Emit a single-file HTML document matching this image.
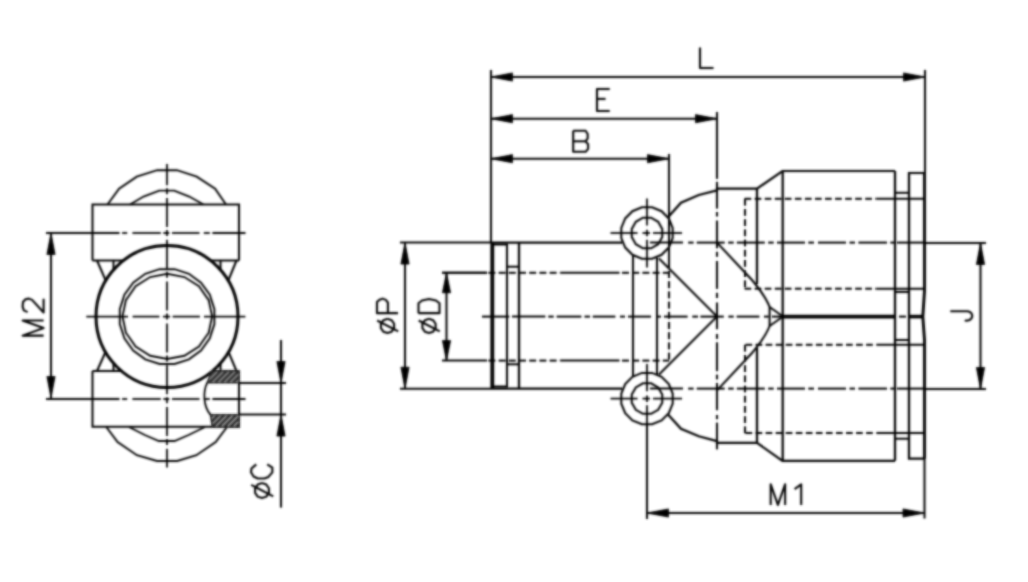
<!DOCTYPE html>
<html><head><meta charset="utf-8"><style>html,body{margin:0;padding:0;background:#fff;width:1028px;height:582px;overflow:hidden}svg{display:block}</style></head>
<body><svg width="1028" height="582" viewBox="0 0 1028 582"><filter id="bl" x="-5%" y="-5%" width="110%" height="110%"><feConvolveMatrix order="5" kernelMatrix="1 2 5 2 1 2 4 10 4 2 5 10 25 10 5 2 4 10 4 2 1 2 5 2 1" divisor="121" edgeMode="none" preserveAlpha="false"/></filter><g filter="url(#bl)"><polyline points="92.5,260.5 92.5,204.5 239,204.5 239,260.5" fill="none" stroke="#000" stroke-width="2.02" stroke-linejoin="miter"/>
<line x1="92.5" y1="260.5" x2="123" y2="260.5" stroke="#000" stroke-width="2.02" stroke-linecap="butt"/>
<line x1="211" y1="260.5" x2="239" y2="260.5" stroke="#000" stroke-width="2.02" stroke-linecap="butt"/>
<polyline points="92.5,371 92.5,426.8 239,426.8 239,371" fill="none" stroke="#000" stroke-width="2.02" stroke-linejoin="miter"/>
<line x1="92.5" y1="371" x2="123" y2="371" stroke="#000" stroke-width="2.02" stroke-linecap="butt"/>
<line x1="211" y1="371" x2="239" y2="371" stroke="#000" stroke-width="2.02" stroke-linecap="butt"/>
<polyline points="106.3,427 117.6,442 136.9,455.2 157,461 177.2,461 196.4,455.2 215.7,442 227,427" fill="none" stroke="#000" stroke-width="1.9" stroke-linejoin="miter"/>
<polyline points="129,427 144.8,435 158.8,441 174.6,441 188.6,435 205,427" fill="none" stroke="#000" stroke-width="1.9" stroke-linejoin="miter"/>
<polyline points="107.5,204.5 119.1,188.6 136.8,176.6 157.2,170.2 176.9,170.2 196.7,176.6 215.1,188.6 226,204.5" fill="none" stroke="#000" stroke-width="1.9" stroke-linejoin="miter"/>
<polyline points="130,204.5 143.6,196.5 159.2,190.6 174.2,190.6 189.2,196.5 203.5,204.5" fill="none" stroke="#000" stroke-width="1.9" stroke-linejoin="miter"/>
<circle cx="167" cy="316.6" r="71" fill="none" stroke="#000" stroke-width="3"/>
<polygon points="214.41,324.11 209.78,338.39 200.97,350.54 188.85,359.37 174.59,364.01 159.61,364.01 145.35,359.37 133.23,350.54 124.42,338.39 119.79,324.11 119.79,309.09 124.42,294.81 133.23,282.66 145.35,273.83 159.61,269.19 174.59,269.19 188.85,273.83 200.97,282.66 209.78,294.81 214.41,309.09" fill="none" stroke="#000" stroke-width="1.9" stroke-linejoin="miter"/>
<polygon points="212.1,316.4 208.69,332.7 198.98,346.52 184.44,355.76 167.3,359 150.16,355.76 135.62,346.52 125.91,332.7 122.5,316.4 125.91,300.1 135.62,286.28 150.16,277.04 167.3,273.8 184.44,277.04 198.98,286.28 208.69,300.1" fill="none" stroke="#000" stroke-width="1.9" stroke-linejoin="miter"/>
<line x1="97" y1="260.5" x2="105.5" y2="280" stroke="#000" stroke-width="2.02" stroke-linecap="butt"/>
<line x1="113.5" y1="260.5" x2="113.5" y2="269" stroke="#000" stroke-width="2.02" stroke-linecap="butt"/>
<line x1="220.5" y1="260.5" x2="220.5" y2="269" stroke="#000" stroke-width="2.02" stroke-linecap="butt"/>
<line x1="236.5" y1="260.5" x2="228.5" y2="280" stroke="#000" stroke-width="2.02" stroke-linecap="butt"/>
<line x1="97" y1="371" x2="105.5" y2="352" stroke="#000" stroke-width="2.02" stroke-linecap="butt"/>
<line x1="113.5" y1="371" x2="113.5" y2="363" stroke="#000" stroke-width="2.02" stroke-linecap="butt"/>
<line x1="220.5" y1="371" x2="220.5" y2="363" stroke="#000" stroke-width="2.02" stroke-linecap="butt"/>
<line x1="236.5" y1="371" x2="228.5" y2="352" stroke="#000" stroke-width="2.02" stroke-linecap="butt"/>
<defs><pattern id="h" patternUnits="userSpaceOnUse" width="4.2" height="4.2" patternTransform="rotate(45)"><rect width="4.2" height="4.2" fill="#2a2a2a"/><rect width="1.1" height="4.2" fill="#a8a8a8"/></pattern></defs>
<path d="M211.7,371 L239.2,371 L239.2,382.8 L207.2,382.8 Z" fill="url(#h)" stroke="#1e1e1e" stroke-width="1.6"/>
<path d="M210.5,414.7 L239.2,414.7 L239.2,427 L212.4,427 Z" fill="url(#h)" stroke="#1e1e1e" stroke-width="1.6"/>
<path d="M207.2,382.8 C203,391 203,406 210.5,414.7" fill="none" stroke="#000" stroke-width="1.79" />
<line x1="239" y1="382.9" x2="286" y2="382.9" stroke="#000" stroke-width="2.02" stroke-linecap="butt"/>
<line x1="239" y1="414.6" x2="286" y2="414.6" stroke="#000" stroke-width="2.02" stroke-linecap="butt"/>
<line x1="167" y1="164.1" x2="167" y2="185.2" stroke="#000" stroke-width="1.79" stroke-linecap="butt"/>
<line x1="167" y1="188.2" x2="167" y2="194.2" stroke="#000" stroke-width="1.79" stroke-linecap="butt"/>
<line x1="167" y1="198" x2="167" y2="227" stroke="#000" stroke-width="1.79" stroke-linecap="butt"/>
<line x1="167" y1="230" x2="167" y2="236" stroke="#000" stroke-width="1.79" stroke-linecap="butt"/>
<line x1="167" y1="239.8" x2="167" y2="268.8" stroke="#000" stroke-width="1.79" stroke-linecap="butt"/>
<line x1="167" y1="271.8" x2="167" y2="277.8" stroke="#000" stroke-width="1.79" stroke-linecap="butt"/>
<line x1="167" y1="281.6" x2="167" y2="310.6" stroke="#000" stroke-width="1.79" stroke-linecap="butt"/>
<line x1="167" y1="313.6" x2="167" y2="319.6" stroke="#000" stroke-width="1.79" stroke-linecap="butt"/>
<line x1="167" y1="323.4" x2="167" y2="352.4" stroke="#000" stroke-width="1.79" stroke-linecap="butt"/>
<line x1="167" y1="355.4" x2="167" y2="361.4" stroke="#000" stroke-width="1.79" stroke-linecap="butt"/>
<line x1="167" y1="365.2" x2="167" y2="394.2" stroke="#000" stroke-width="1.79" stroke-linecap="butt"/>
<line x1="167" y1="397.2" x2="167" y2="403.2" stroke="#000" stroke-width="1.79" stroke-linecap="butt"/>
<line x1="167" y1="407" x2="167" y2="436" stroke="#000" stroke-width="1.79" stroke-linecap="butt"/>
<line x1="167" y1="439" x2="167" y2="445" stroke="#000" stroke-width="1.79" stroke-linecap="butt"/>
<line x1="167" y1="448.8" x2="167" y2="467.5" stroke="#000" stroke-width="1.79" stroke-linecap="butt"/>
<line x1="86.3" y1="316.6" x2="128" y2="316.6" stroke="#000" stroke-width="1.79" stroke-linecap="butt"/>
<line x1="132.6" y1="316.6" x2="159.4" y2="316.6" stroke="#000" stroke-width="1.79" stroke-linecap="butt"/>
<line x1="162.9" y1="316.6" x2="170.1" y2="316.6" stroke="#000" stroke-width="1.79" stroke-linecap="butt"/>
<line x1="172.6" y1="316.6" x2="199.9" y2="316.6" stroke="#000" stroke-width="1.79" stroke-linecap="butt"/>
<line x1="204" y1="316.6" x2="245.4" y2="316.6" stroke="#000" stroke-width="1.79" stroke-linecap="butt"/>
<line x1="46" y1="233" x2="119.5" y2="233" stroke="#000" stroke-width="1.79" stroke-linecap="butt"/>
<line x1="122.1" y1="233" x2="127.2" y2="233" stroke="#000" stroke-width="1.79" stroke-linecap="butt"/>
<line x1="132.4" y1="233" x2="160.8" y2="233" stroke="#000" stroke-width="1.79" stroke-linecap="butt"/>
<line x1="163.3" y1="233" x2="169.3" y2="233" stroke="#000" stroke-width="1.79" stroke-linecap="butt"/>
<line x1="172" y1="233" x2="199.5" y2="233" stroke="#000" stroke-width="1.79" stroke-linecap="butt"/>
<line x1="203.8" y1="233" x2="209.8" y2="233" stroke="#000" stroke-width="1.79" stroke-linecap="butt"/>
<line x1="212.4" y1="233" x2="245.5" y2="233" stroke="#000" stroke-width="1.79" stroke-linecap="butt"/>
<line x1="46" y1="399" x2="119.5" y2="399" stroke="#000" stroke-width="1.79" stroke-linecap="butt"/>
<line x1="122.1" y1="399" x2="127.2" y2="399" stroke="#000" stroke-width="1.79" stroke-linecap="butt"/>
<line x1="132.4" y1="399" x2="160.8" y2="399" stroke="#000" stroke-width="1.79" stroke-linecap="butt"/>
<line x1="163.3" y1="399" x2="169.3" y2="399" stroke="#000" stroke-width="1.79" stroke-linecap="butt"/>
<line x1="172" y1="399" x2="199.5" y2="399" stroke="#000" stroke-width="1.79" stroke-linecap="butt"/>
<line x1="203.8" y1="399" x2="209.8" y2="399" stroke="#000" stroke-width="1.79" stroke-linecap="butt"/>
<line x1="212.4" y1="399" x2="245.5" y2="399" stroke="#000" stroke-width="1.79" stroke-linecap="butt"/>
<line x1="51" y1="233" x2="51" y2="398" stroke="#000" stroke-width="2.02" stroke-linecap="butt"/>
<polygon points="51,233 55.1,254.5 46.9,254.5" fill="#000" stroke="#000" stroke-width="0.8" stroke-linejoin="miter"/>
<polygon points="51,398 46.9,376.5 55.1,376.5" fill="#000" stroke="#000" stroke-width="0.8" stroke-linejoin="miter"/>
<line x1="281" y1="340" x2="281" y2="507.6" stroke="#000" stroke-width="2.02" stroke-linecap="butt"/>
<polygon points="281,383 276.9,361.5 285.1,361.5" fill="#000" stroke="#000" stroke-width="0.8" stroke-linejoin="miter"/>
<polygon points="281,414.6 285.1,436.1 276.9,436.1" fill="#000" stroke="#000" stroke-width="0.8" stroke-linejoin="miter"/>
<line x1="491" y1="77" x2="925" y2="77" stroke="#000" stroke-width="2.02" stroke-linecap="butt"/>
<polygon points="491,77 512.5,72.9 512.5,81.1" fill="#000" stroke="#000" stroke-width="0.8" stroke-linejoin="miter"/>
<polygon points="925,77 903.5,81.1 903.5,72.9" fill="#000" stroke="#000" stroke-width="0.8" stroke-linejoin="miter"/>
<line x1="491" y1="118.7" x2="717" y2="118.7" stroke="#000" stroke-width="2.02" stroke-linecap="butt"/>
<polygon points="491,118.7 512.5,114.6 512.5,122.8" fill="#000" stroke="#000" stroke-width="0.8" stroke-linejoin="miter"/>
<polygon points="717,118.7 695.5,122.8 695.5,114.6" fill="#000" stroke="#000" stroke-width="0.8" stroke-linejoin="miter"/>
<line x1="491" y1="158.7" x2="669" y2="158.7" stroke="#000" stroke-width="2.02" stroke-linecap="butt"/>
<polygon points="491,158.7 512.5,154.6 512.5,162.8" fill="#000" stroke="#000" stroke-width="0.8" stroke-linejoin="miter"/>
<polygon points="669,158.7 647.5,162.8 647.5,154.6" fill="#000" stroke="#000" stroke-width="0.8" stroke-linejoin="miter"/>
<line x1="491" y1="70" x2="491" y2="243" stroke="#000" stroke-width="2.02" stroke-linecap="butt"/>
<line x1="717" y1="112" x2="717" y2="178.9" stroke="#000" stroke-width="2.02" stroke-linecap="butt"/>
<line x1="717" y1="181.8" x2="717" y2="208.6" stroke="#000" stroke-width="2.02" stroke-linecap="butt"/>
<line x1="717" y1="212" x2="717" y2="216.5" stroke="#000" stroke-width="2.02" stroke-linecap="butt"/>
<line x1="717" y1="220.5" x2="717" y2="248.3" stroke="#000" stroke-width="2.02" stroke-linecap="butt"/>
<line x1="717" y1="251.8" x2="717" y2="256.8" stroke="#000" stroke-width="2.02" stroke-linecap="butt"/>
<line x1="717" y1="261" x2="717" y2="288.9" stroke="#000" stroke-width="2.02" stroke-linecap="butt"/>
<line x1="717" y1="292.8" x2="717" y2="298" stroke="#000" stroke-width="2.02" stroke-linecap="butt"/>
<line x1="717" y1="302.5" x2="717" y2="329.2" stroke="#000" stroke-width="2.02" stroke-linecap="butt"/>
<line x1="717" y1="334" x2="717" y2="338.9" stroke="#000" stroke-width="2.02" stroke-linecap="butt"/>
<line x1="717" y1="342.3" x2="717" y2="371.2" stroke="#000" stroke-width="2.02" stroke-linecap="butt"/>
<line x1="717" y1="374.6" x2="717" y2="379.4" stroke="#000" stroke-width="2.02" stroke-linecap="butt"/>
<line x1="717" y1="382.9" x2="717" y2="410.2" stroke="#000" stroke-width="2.02" stroke-linecap="butt"/>
<line x1="717" y1="415" x2="717" y2="419.2" stroke="#000" stroke-width="2.02" stroke-linecap="butt"/>
<line x1="717" y1="422.6" x2="717" y2="449.4" stroke="#000" stroke-width="2.02" stroke-linecap="butt"/>
<line x1="669" y1="154" x2="669" y2="268" stroke="#000" stroke-width="2.02" stroke-linecap="butt"/>
<line x1="925" y1="70" x2="925" y2="173" stroke="#000" stroke-width="2.02" stroke-linecap="butt"/>
<line x1="492.3" y1="242.6" x2="492.3" y2="388.6" stroke="#000" stroke-width="3.81" stroke-linecap="butt"/>
<polyline points="492,244.6 507,244.6 507,386.6 492,386.6" fill="none" stroke="#000" stroke-width="2.02" stroke-linejoin="miter"/>
<line x1="519" y1="242.6" x2="519" y2="388.6" stroke="#000" stroke-width="2.24" stroke-linecap="butt"/>
<line x1="507" y1="266.7" x2="519" y2="266.7" stroke="#000" stroke-width="2.02" stroke-linecap="butt"/>
<line x1="507" y1="364.3" x2="519" y2="364.3" stroke="#000" stroke-width="2.02" stroke-linecap="butt"/>
<line x1="491" y1="242.6" x2="622" y2="242.6" stroke="#000" stroke-width="2.24" stroke-linecap="butt"/>
<line x1="491" y1="388.6" x2="622" y2="388.6" stroke="#000" stroke-width="2.24" stroke-linecap="butt"/>
<line x1="442" y1="272.8" x2="487" y2="272.8" stroke="#000" stroke-width="2.02" stroke-linecap="butt"/>
<line x1="488.4" y1="272.8" x2="495.4" y2="272.8" stroke="#000" stroke-width="2.02" stroke-linecap="butt"/>
<line x1="498.6" y1="272.8" x2="505.6" y2="272.8" stroke="#000" stroke-width="2.02" stroke-linecap="butt"/>
<line x1="508.8" y1="272.8" x2="515.8" y2="272.8" stroke="#000" stroke-width="2.02" stroke-linecap="butt"/>
<line x1="519" y1="272.8" x2="526" y2="272.8" stroke="#000" stroke-width="2.02" stroke-linecap="butt"/>
<line x1="529.2" y1="272.8" x2="536.2" y2="272.8" stroke="#000" stroke-width="2.02" stroke-linecap="butt"/>
<line x1="539.4" y1="272.8" x2="546.4" y2="272.8" stroke="#000" stroke-width="2.02" stroke-linecap="butt"/>
<line x1="549.6" y1="272.8" x2="556.6" y2="272.8" stroke="#000" stroke-width="2.02" stroke-linecap="butt"/>
<line x1="559.8" y1="272.8" x2="560.3" y2="272.8" stroke="#000" stroke-width="2.02" stroke-linecap="butt"/>
<line x1="560.3" y1="272.8" x2="619.5" y2="272.8" stroke="#000" stroke-width="2.02" stroke-linecap="butt"/>
<line x1="622" y1="272.8" x2="629" y2="272.8" stroke="#000" stroke-width="2.02" stroke-linecap="butt"/>
<line x1="632.2" y1="272.8" x2="639.2" y2="272.8" stroke="#000" stroke-width="2.02" stroke-linecap="butt"/>
<line x1="642.4" y1="272.8" x2="649.4" y2="272.8" stroke="#000" stroke-width="2.02" stroke-linecap="butt"/>
<line x1="652.6" y1="272.8" x2="659.6" y2="272.8" stroke="#000" stroke-width="2.02" stroke-linecap="butt"/>
<line x1="662.8" y1="272.8" x2="669" y2="272.8" stroke="#000" stroke-width="2.02" stroke-linecap="butt"/>
<line x1="442" y1="360.6" x2="487" y2="360.6" stroke="#000" stroke-width="2.02" stroke-linecap="butt"/>
<line x1="488.4" y1="360.6" x2="495.4" y2="360.6" stroke="#000" stroke-width="2.02" stroke-linecap="butt"/>
<line x1="498.6" y1="360.6" x2="505.6" y2="360.6" stroke="#000" stroke-width="2.02" stroke-linecap="butt"/>
<line x1="508.8" y1="360.6" x2="515.8" y2="360.6" stroke="#000" stroke-width="2.02" stroke-linecap="butt"/>
<line x1="519" y1="360.6" x2="526" y2="360.6" stroke="#000" stroke-width="2.02" stroke-linecap="butt"/>
<line x1="529.2" y1="360.6" x2="536.2" y2="360.6" stroke="#000" stroke-width="2.02" stroke-linecap="butt"/>
<line x1="539.4" y1="360.6" x2="546.4" y2="360.6" stroke="#000" stroke-width="2.02" stroke-linecap="butt"/>
<line x1="549.6" y1="360.6" x2="556.6" y2="360.6" stroke="#000" stroke-width="2.02" stroke-linecap="butt"/>
<line x1="559.8" y1="360.6" x2="560.3" y2="360.6" stroke="#000" stroke-width="2.02" stroke-linecap="butt"/>
<line x1="560.3" y1="360.6" x2="619.5" y2="360.6" stroke="#000" stroke-width="2.02" stroke-linecap="butt"/>
<line x1="622" y1="360.6" x2="629" y2="360.6" stroke="#000" stroke-width="2.02" stroke-linecap="butt"/>
<line x1="632.2" y1="360.6" x2="639.2" y2="360.6" stroke="#000" stroke-width="2.02" stroke-linecap="butt"/>
<line x1="642.4" y1="360.6" x2="649.4" y2="360.6" stroke="#000" stroke-width="2.02" stroke-linecap="butt"/>
<line x1="652.6" y1="360.6" x2="659.6" y2="360.6" stroke="#000" stroke-width="2.02" stroke-linecap="butt"/>
<line x1="662.8" y1="360.6" x2="669" y2="360.6" stroke="#000" stroke-width="2.02" stroke-linecap="butt"/>
<line x1="633" y1="256" x2="633" y2="377" stroke="#000" stroke-width="2.02" stroke-linecap="butt"/>
<line x1="657" y1="258" x2="657" y2="375" stroke="#000" stroke-width="2.02" stroke-linecap="butt"/>
<line x1="669" y1="271" x2="669" y2="278" stroke="#000" stroke-width="2.02" stroke-linecap="butt"/>
<line x1="669" y1="281.2" x2="669" y2="288.2" stroke="#000" stroke-width="2.02" stroke-linecap="butt"/>
<line x1="669" y1="291.4" x2="669" y2="298.4" stroke="#000" stroke-width="2.02" stroke-linecap="butt"/>
<line x1="669" y1="301.6" x2="669" y2="308.6" stroke="#000" stroke-width="2.02" stroke-linecap="butt"/>
<line x1="669" y1="311.8" x2="669" y2="318.8" stroke="#000" stroke-width="2.02" stroke-linecap="butt"/>
<line x1="669" y1="322" x2="669" y2="329" stroke="#000" stroke-width="2.02" stroke-linecap="butt"/>
<line x1="669" y1="332.2" x2="669" y2="339.2" stroke="#000" stroke-width="2.02" stroke-linecap="butt"/>
<line x1="669" y1="342.4" x2="669" y2="349.4" stroke="#000" stroke-width="2.02" stroke-linecap="butt"/>
<line x1="669" y1="352.6" x2="669" y2="359.6" stroke="#000" stroke-width="2.02" stroke-linecap="butt"/>
<polygon points="672.7,238.11 668.78,247.56 661.56,254.78 652.11,258.7 641.89,258.7 632.44,254.78 625.22,247.56 621.3,238.11 621.3,227.89 625.22,218.44 632.44,211.22 641.89,207.3 652.11,207.3 661.56,211.22 668.78,218.44 672.7,227.89" fill="none" stroke="#000" stroke-width="2.02" stroke-linejoin="miter"/>
<polygon points="662.26,237.09 658.17,244.17 651.09,248.26 642.91,248.26 635.83,244.17 631.74,237.09 631.74,228.91 635.83,221.83 642.91,217.74 651.09,217.74 658.17,221.83 662.26,228.91" fill="none" stroke="#000" stroke-width="2.02" stroke-linejoin="miter"/>
<line x1="610.5" y1="233" x2="637.5" y2="233" stroke="#000" stroke-width="1.79" stroke-linecap="butt"/>
<line x1="642.5" y1="233" x2="650" y2="233" stroke="#000" stroke-width="1.79" stroke-linecap="butt"/>
<line x1="653" y1="233" x2="682" y2="233" stroke="#000" stroke-width="1.79" stroke-linecap="butt"/>
<line x1="647" y1="198.5" x2="647" y2="225.6" stroke="#000" stroke-width="1.79" stroke-linecap="butt"/>
<line x1="647" y1="229.8" x2="647" y2="236.3" stroke="#000" stroke-width="1.79" stroke-linecap="butt"/>
<line x1="647" y1="239.7" x2="647" y2="267.4" stroke="#000" stroke-width="1.79" stroke-linecap="butt"/>
<polygon points="672.7,403.71 668.78,413.16 661.56,420.38 652.11,424.3 641.89,424.3 632.44,420.38 625.22,413.16 621.3,403.71 621.3,393.49 625.22,384.04 632.44,376.82 641.89,372.9 652.11,372.9 661.56,376.82 668.78,384.04 672.7,393.49" fill="none" stroke="#000" stroke-width="2.02" stroke-linejoin="miter"/>
<polygon points="662.26,402.69 658.17,409.77 651.09,413.86 642.91,413.86 635.83,409.77 631.74,402.69 631.74,394.51 635.83,387.43 642.91,383.34 651.09,383.34 658.17,387.43 662.26,394.51" fill="none" stroke="#000" stroke-width="2.02" stroke-linejoin="miter"/>
<line x1="610.5" y1="398.6" x2="637.5" y2="398.6" stroke="#000" stroke-width="1.79" stroke-linecap="butt"/>
<line x1="642.5" y1="398.6" x2="650" y2="398.6" stroke="#000" stroke-width="1.79" stroke-linecap="butt"/>
<line x1="653" y1="398.6" x2="682" y2="398.6" stroke="#000" stroke-width="1.79" stroke-linecap="butt"/>
<line x1="647" y1="364.1" x2="647" y2="391.2" stroke="#000" stroke-width="1.79" stroke-linecap="butt"/>
<line x1="647" y1="395.4" x2="647" y2="401.9" stroke="#000" stroke-width="1.79" stroke-linecap="butt"/>
<line x1="647" y1="405.3" x2="647" y2="433" stroke="#000" stroke-width="1.79" stroke-linecap="butt"/>
<polyline points="668,217.2 681,202.8 698.8,195 717,190.4 717,188.7 757,188.7 782.5,171 895,171" fill="none" stroke="#000" stroke-width="2.24" stroke-linejoin="miter"/>
<polyline points="668,414.5 681,428.7 698.8,436.3 717,441.2 717,442.9 757,442.9 782.5,460.8 895,460.8" fill="none" stroke="#000" stroke-width="2.24" stroke-linejoin="miter"/>
<line x1="757" y1="188.7" x2="757" y2="284" stroke="#000" stroke-width="2.24" stroke-linecap="butt"/>
<line x1="757" y1="347.5" x2="757" y2="442.9" stroke="#000" stroke-width="2.24" stroke-linecap="butt"/>
<line x1="782.7" y1="171" x2="782.7" y2="460.8" stroke="#000" stroke-width="2.24" stroke-linecap="butt"/>
<line x1="895" y1="171" x2="895" y2="460.8" stroke="#000" stroke-width="2.24" stroke-linecap="butt"/>
<polyline points="924,458.7 909,458.7 909,173 924,173" fill="none" stroke="#000" stroke-width="2.24" stroke-linejoin="miter"/>
<polyline points="924.5,173 924.5,291 922.8,316.6 924.5,340 924.5,458.7" fill="none" stroke="#000" stroke-width="2.91" stroke-linejoin="miter"/>
<line x1="895" y1="192.8" x2="909" y2="192.8" stroke="#000" stroke-width="2.02" stroke-linecap="butt"/>
<line x1="895" y1="292" x2="909" y2="292" stroke="#000" stroke-width="2.02" stroke-linecap="butt"/>
<line x1="895" y1="340" x2="909" y2="340" stroke="#000" stroke-width="2.02" stroke-linecap="butt"/>
<line x1="895" y1="438.7" x2="909" y2="438.7" stroke="#000" stroke-width="2.02" stroke-linecap="butt"/>
<line x1="744.6" y1="198.8" x2="751.3" y2="198.8" stroke="#000" stroke-width="2.02" stroke-linecap="butt"/>
<line x1="754.65" y1="198.8" x2="761.35" y2="198.8" stroke="#000" stroke-width="2.02" stroke-linecap="butt"/>
<line x1="764.7" y1="198.8" x2="771.4" y2="198.8" stroke="#000" stroke-width="2.02" stroke-linecap="butt"/>
<line x1="774.75" y1="198.8" x2="781.45" y2="198.8" stroke="#000" stroke-width="2.02" stroke-linecap="butt"/>
<line x1="784.8" y1="198.8" x2="791.5" y2="198.8" stroke="#000" stroke-width="2.02" stroke-linecap="butt"/>
<line x1="794.85" y1="198.8" x2="801.55" y2="198.8" stroke="#000" stroke-width="2.02" stroke-linecap="butt"/>
<line x1="804.9" y1="198.8" x2="811.6" y2="198.8" stroke="#000" stroke-width="2.02" stroke-linecap="butt"/>
<line x1="814.95" y1="198.8" x2="821.65" y2="198.8" stroke="#000" stroke-width="2.02" stroke-linecap="butt"/>
<line x1="825" y1="198.8" x2="831.7" y2="198.8" stroke="#000" stroke-width="2.02" stroke-linecap="butt"/>
<line x1="835.05" y1="198.8" x2="841.75" y2="198.8" stroke="#000" stroke-width="2.02" stroke-linecap="butt"/>
<line x1="845.1" y1="198.8" x2="851.8" y2="198.8" stroke="#000" stroke-width="2.02" stroke-linecap="butt"/>
<line x1="855.15" y1="198.8" x2="861.85" y2="198.8" stroke="#000" stroke-width="2.02" stroke-linecap="butt"/>
<line x1="865.2" y1="198.8" x2="871.9" y2="198.8" stroke="#000" stroke-width="2.02" stroke-linecap="butt"/>
<line x1="875.25" y1="198.8" x2="876.5" y2="198.8" stroke="#000" stroke-width="2.02" stroke-linecap="butt"/>
<line x1="876.5" y1="198.8" x2="924" y2="198.8" stroke="#000" stroke-width="2.02" stroke-linecap="butt"/>
<line x1="744.6" y1="288.7" x2="751.3" y2="288.7" stroke="#000" stroke-width="2.02" stroke-linecap="butt"/>
<line x1="754.65" y1="288.7" x2="761.35" y2="288.7" stroke="#000" stroke-width="2.02" stroke-linecap="butt"/>
<line x1="764.7" y1="288.7" x2="771.4" y2="288.7" stroke="#000" stroke-width="2.02" stroke-linecap="butt"/>
<line x1="774.75" y1="288.7" x2="781.45" y2="288.7" stroke="#000" stroke-width="2.02" stroke-linecap="butt"/>
<line x1="784.8" y1="288.7" x2="791.5" y2="288.7" stroke="#000" stroke-width="2.02" stroke-linecap="butt"/>
<line x1="794.85" y1="288.7" x2="801.55" y2="288.7" stroke="#000" stroke-width="2.02" stroke-linecap="butt"/>
<line x1="804.9" y1="288.7" x2="811.6" y2="288.7" stroke="#000" stroke-width="2.02" stroke-linecap="butt"/>
<line x1="814.95" y1="288.7" x2="821.65" y2="288.7" stroke="#000" stroke-width="2.02" stroke-linecap="butt"/>
<line x1="825" y1="288.7" x2="831.7" y2="288.7" stroke="#000" stroke-width="2.02" stroke-linecap="butt"/>
<line x1="835.05" y1="288.7" x2="841.75" y2="288.7" stroke="#000" stroke-width="2.02" stroke-linecap="butt"/>
<line x1="845.1" y1="288.7" x2="851.8" y2="288.7" stroke="#000" stroke-width="2.02" stroke-linecap="butt"/>
<line x1="855.15" y1="288.7" x2="861.85" y2="288.7" stroke="#000" stroke-width="2.02" stroke-linecap="butt"/>
<line x1="865.2" y1="288.7" x2="871.9" y2="288.7" stroke="#000" stroke-width="2.02" stroke-linecap="butt"/>
<line x1="875.25" y1="288.7" x2="876.5" y2="288.7" stroke="#000" stroke-width="2.02" stroke-linecap="butt"/>
<line x1="876.5" y1="288.7" x2="924" y2="288.7" stroke="#000" stroke-width="2.02" stroke-linecap="butt"/>
<line x1="745.5" y1="344.8" x2="752.2" y2="344.8" stroke="#000" stroke-width="2.02" stroke-linecap="butt"/>
<line x1="755.55" y1="344.8" x2="762.25" y2="344.8" stroke="#000" stroke-width="2.02" stroke-linecap="butt"/>
<line x1="765.6" y1="344.8" x2="772.3" y2="344.8" stroke="#000" stroke-width="2.02" stroke-linecap="butt"/>
<line x1="775.65" y1="344.8" x2="782.35" y2="344.8" stroke="#000" stroke-width="2.02" stroke-linecap="butt"/>
<line x1="785.7" y1="344.8" x2="792.4" y2="344.8" stroke="#000" stroke-width="2.02" stroke-linecap="butt"/>
<line x1="795.75" y1="344.8" x2="802.45" y2="344.8" stroke="#000" stroke-width="2.02" stroke-linecap="butt"/>
<line x1="805.8" y1="344.8" x2="812.5" y2="344.8" stroke="#000" stroke-width="2.02" stroke-linecap="butt"/>
<line x1="815.85" y1="344.8" x2="822.55" y2="344.8" stroke="#000" stroke-width="2.02" stroke-linecap="butt"/>
<line x1="825.9" y1="344.8" x2="832.6" y2="344.8" stroke="#000" stroke-width="2.02" stroke-linecap="butt"/>
<line x1="835.95" y1="344.8" x2="842.65" y2="344.8" stroke="#000" stroke-width="2.02" stroke-linecap="butt"/>
<line x1="846" y1="344.8" x2="852.7" y2="344.8" stroke="#000" stroke-width="2.02" stroke-linecap="butt"/>
<line x1="856.05" y1="344.8" x2="862.75" y2="344.8" stroke="#000" stroke-width="2.02" stroke-linecap="butt"/>
<line x1="866.1" y1="344.8" x2="872.8" y2="344.8" stroke="#000" stroke-width="2.02" stroke-linecap="butt"/>
<line x1="876.15" y1="344.8" x2="876.5" y2="344.8" stroke="#000" stroke-width="2.02" stroke-linecap="butt"/>
<line x1="876.5" y1="344.8" x2="924" y2="344.8" stroke="#000" stroke-width="2.02" stroke-linecap="butt"/>
<line x1="745.5" y1="433" x2="752.2" y2="433" stroke="#000" stroke-width="2.02" stroke-linecap="butt"/>
<line x1="755.55" y1="433" x2="762.25" y2="433" stroke="#000" stroke-width="2.02" stroke-linecap="butt"/>
<line x1="765.6" y1="433" x2="772.3" y2="433" stroke="#000" stroke-width="2.02" stroke-linecap="butt"/>
<line x1="775.65" y1="433" x2="782.35" y2="433" stroke="#000" stroke-width="2.02" stroke-linecap="butt"/>
<line x1="785.7" y1="433" x2="792.4" y2="433" stroke="#000" stroke-width="2.02" stroke-linecap="butt"/>
<line x1="795.75" y1="433" x2="802.45" y2="433" stroke="#000" stroke-width="2.02" stroke-linecap="butt"/>
<line x1="805.8" y1="433" x2="812.5" y2="433" stroke="#000" stroke-width="2.02" stroke-linecap="butt"/>
<line x1="815.85" y1="433" x2="822.55" y2="433" stroke="#000" stroke-width="2.02" stroke-linecap="butt"/>
<line x1="825.9" y1="433" x2="832.6" y2="433" stroke="#000" stroke-width="2.02" stroke-linecap="butt"/>
<line x1="835.95" y1="433" x2="842.65" y2="433" stroke="#000" stroke-width="2.02" stroke-linecap="butt"/>
<line x1="846" y1="433" x2="852.7" y2="433" stroke="#000" stroke-width="2.02" stroke-linecap="butt"/>
<line x1="856.05" y1="433" x2="862.75" y2="433" stroke="#000" stroke-width="2.02" stroke-linecap="butt"/>
<line x1="866.1" y1="433" x2="872.8" y2="433" stroke="#000" stroke-width="2.02" stroke-linecap="butt"/>
<line x1="876.15" y1="433" x2="876.5" y2="433" stroke="#000" stroke-width="2.02" stroke-linecap="butt"/>
<line x1="876.5" y1="433" x2="924" y2="433" stroke="#000" stroke-width="2.02" stroke-linecap="butt"/>
<line x1="745" y1="198.8" x2="745" y2="205.6" stroke="#000" stroke-width="2.02" stroke-linecap="butt"/>
<line x1="745" y1="209" x2="745" y2="215.8" stroke="#000" stroke-width="2.02" stroke-linecap="butt"/>
<line x1="745" y1="219.2" x2="745" y2="226" stroke="#000" stroke-width="2.02" stroke-linecap="butt"/>
<line x1="745" y1="229.4" x2="745" y2="236.2" stroke="#000" stroke-width="2.02" stroke-linecap="butt"/>
<line x1="745" y1="239.6" x2="745" y2="246.4" stroke="#000" stroke-width="2.02" stroke-linecap="butt"/>
<line x1="745" y1="249.8" x2="745" y2="256.6" stroke="#000" stroke-width="2.02" stroke-linecap="butt"/>
<line x1="745" y1="260" x2="745" y2="266.8" stroke="#000" stroke-width="2.02" stroke-linecap="butt"/>
<line x1="745" y1="270.2" x2="745" y2="277" stroke="#000" stroke-width="2.02" stroke-linecap="butt"/>
<line x1="745" y1="280.4" x2="745" y2="287.2" stroke="#000" stroke-width="2.02" stroke-linecap="butt"/>
<line x1="745" y1="344.8" x2="745" y2="351.6" stroke="#000" stroke-width="2.02" stroke-linecap="butt"/>
<line x1="745" y1="355" x2="745" y2="361.8" stroke="#000" stroke-width="2.02" stroke-linecap="butt"/>
<line x1="745" y1="365.2" x2="745" y2="372" stroke="#000" stroke-width="2.02" stroke-linecap="butt"/>
<line x1="745" y1="375.4" x2="745" y2="382.2" stroke="#000" stroke-width="2.02" stroke-linecap="butt"/>
<line x1="745" y1="385.6" x2="745" y2="392.4" stroke="#000" stroke-width="2.02" stroke-linecap="butt"/>
<line x1="745" y1="395.8" x2="745" y2="402.6" stroke="#000" stroke-width="2.02" stroke-linecap="butt"/>
<line x1="745" y1="406" x2="745" y2="412.8" stroke="#000" stroke-width="2.02" stroke-linecap="butt"/>
<line x1="745" y1="416.2" x2="745" y2="423" stroke="#000" stroke-width="2.02" stroke-linecap="butt"/>
<line x1="745" y1="426.4" x2="745" y2="433.2" stroke="#000" stroke-width="2.02" stroke-linecap="butt"/>
<line x1="650" y1="242.6" x2="683" y2="242.6" stroke="#000" stroke-width="2.02" stroke-linecap="butt"/>
<line x1="650" y1="388.6" x2="683" y2="388.6" stroke="#000" stroke-width="2.02" stroke-linecap="butt"/>
<line x1="688.2" y1="242.6" x2="693.6" y2="242.6" stroke="#000" stroke-width="2.02" stroke-linecap="butt"/>
<line x1="696.7" y1="242.6" x2="724.7" y2="242.6" stroke="#000" stroke-width="2.02" stroke-linecap="butt"/>
<line x1="728.2" y1="242.6" x2="733.7" y2="242.6" stroke="#000" stroke-width="2.02" stroke-linecap="butt"/>
<line x1="736.8" y1="242.6" x2="764.8" y2="242.6" stroke="#000" stroke-width="2.02" stroke-linecap="butt"/>
<line x1="768.2" y1="242.6" x2="773.7" y2="242.6" stroke="#000" stroke-width="2.02" stroke-linecap="butt"/>
<line x1="777" y1="242.6" x2="805" y2="242.6" stroke="#000" stroke-width="2.02" stroke-linecap="butt"/>
<line x1="808.3" y1="242.6" x2="814" y2="242.6" stroke="#000" stroke-width="2.02" stroke-linecap="butt"/>
<line x1="818" y1="242.6" x2="846" y2="242.6" stroke="#000" stroke-width="2.02" stroke-linecap="butt"/>
<line x1="849.5" y1="242.6" x2="855" y2="242.6" stroke="#000" stroke-width="2.02" stroke-linecap="butt"/>
<line x1="858.4" y1="242.6" x2="887" y2="242.6" stroke="#000" stroke-width="2.02" stroke-linecap="butt"/>
<line x1="890.3" y1="242.6" x2="895.5" y2="242.6" stroke="#000" stroke-width="2.02" stroke-linecap="butt"/>
<line x1="897" y1="242.6" x2="924" y2="242.6" stroke="#000" stroke-width="2.02" stroke-linecap="butt"/>
<line x1="688.2" y1="388.6" x2="693.6" y2="388.6" stroke="#000" stroke-width="2.02" stroke-linecap="butt"/>
<line x1="696.7" y1="388.6" x2="724.7" y2="388.6" stroke="#000" stroke-width="2.02" stroke-linecap="butt"/>
<line x1="728.2" y1="388.6" x2="733.7" y2="388.6" stroke="#000" stroke-width="2.02" stroke-linecap="butt"/>
<line x1="736.8" y1="388.6" x2="764.8" y2="388.6" stroke="#000" stroke-width="2.02" stroke-linecap="butt"/>
<line x1="768.2" y1="388.6" x2="773.7" y2="388.6" stroke="#000" stroke-width="2.02" stroke-linecap="butt"/>
<line x1="777" y1="388.6" x2="805" y2="388.6" stroke="#000" stroke-width="2.02" stroke-linecap="butt"/>
<line x1="808.3" y1="388.6" x2="814" y2="388.6" stroke="#000" stroke-width="2.02" stroke-linecap="butt"/>
<line x1="818" y1="388.6" x2="846" y2="388.6" stroke="#000" stroke-width="2.02" stroke-linecap="butt"/>
<line x1="849.5" y1="388.6" x2="855" y2="388.6" stroke="#000" stroke-width="2.02" stroke-linecap="butt"/>
<line x1="858.4" y1="388.6" x2="887" y2="388.6" stroke="#000" stroke-width="2.02" stroke-linecap="butt"/>
<line x1="890.3" y1="388.6" x2="895.5" y2="388.6" stroke="#000" stroke-width="2.02" stroke-linecap="butt"/>
<line x1="897" y1="388.6" x2="924" y2="388.6" stroke="#000" stroke-width="2.02" stroke-linecap="butt"/>
<line x1="482" y1="316.6" x2="509.3" y2="316.6" stroke="#000" stroke-width="2.02" stroke-linecap="butt"/>
<line x1="512" y1="316.6" x2="545.4" y2="316.6" stroke="#000" stroke-width="2.02" stroke-linecap="butt"/>
<line x1="548.3" y1="316.6" x2="553.7" y2="316.6" stroke="#000" stroke-width="2.02" stroke-linecap="butt"/>
<line x1="556.6" y1="316.6" x2="581.4" y2="316.6" stroke="#000" stroke-width="2.02" stroke-linecap="butt"/>
<line x1="584.5" y1="316.6" x2="590" y2="316.6" stroke="#000" stroke-width="2.02" stroke-linecap="butt"/>
<line x1="592.7" y1="316.6" x2="615.4" y2="316.6" stroke="#000" stroke-width="2.02" stroke-linecap="butt"/>
<line x1="620" y1="316.6" x2="625" y2="316.6" stroke="#000" stroke-width="2.02" stroke-linecap="butt"/>
<line x1="628" y1="316.6" x2="651" y2="316.6" stroke="#000" stroke-width="2.02" stroke-linecap="butt"/>
<line x1="656.6" y1="316.6" x2="661" y2="316.6" stroke="#000" stroke-width="2.02" stroke-linecap="butt"/>
<line x1="664" y1="316.6" x2="687.6" y2="316.6" stroke="#000" stroke-width="2.02" stroke-linecap="butt"/>
<line x1="692.3" y1="316.6" x2="698" y2="316.6" stroke="#000" stroke-width="2.02" stroke-linecap="butt"/>
<line x1="700.4" y1="316.6" x2="723.8" y2="316.6" stroke="#000" stroke-width="2.02" stroke-linecap="butt"/>
<line x1="728.4" y1="316.6" x2="733.7" y2="316.6" stroke="#000" stroke-width="2.02" stroke-linecap="butt"/>
<line x1="736.6" y1="316.6" x2="759.4" y2="316.6" stroke="#000" stroke-width="2.02" stroke-linecap="butt"/>
<line x1="764" y1="316.6" x2="768.7" y2="316.6" stroke="#000" stroke-width="2.02" stroke-linecap="butt"/>
<line x1="772" y1="316.6" x2="783" y2="316.6" stroke="#000" stroke-width="2.02" stroke-linecap="butt"/>
<line x1="783" y1="316.6" x2="895" y2="316.6" stroke="#000" stroke-width="3.58" stroke-linecap="butt"/>
<line x1="899" y1="316.6" x2="906" y2="316.6" stroke="#000" stroke-width="2.02" stroke-linecap="butt"/>
<line x1="909" y1="316.6" x2="923" y2="316.6" stroke="#000" stroke-width="3.58" stroke-linecap="butt"/>
<polyline points="659,258.5 717,316.5 659,374.5" fill="none" stroke="#000" stroke-width="2.02" stroke-linejoin="miter"/>
<path d="M717,242.6 L752,280 C762,292 767,300 769.6,307 L769.6,326 C767,333 762,341 752,353 L717,390.4" fill="none" stroke="#000" stroke-width="2.02" />
<line x1="769.6" y1="307" x2="783" y2="316.5" stroke="#000" stroke-width="2.02" stroke-linecap="butt"/>
<line x1="769.6" y1="326" x2="783" y2="316.5" stroke="#000" stroke-width="2.02" stroke-linecap="butt"/>
<line x1="400" y1="242.6" x2="491" y2="242.6" stroke="#000" stroke-width="2.02" stroke-linecap="butt"/>
<line x1="400" y1="388.7" x2="491" y2="388.7" stroke="#000" stroke-width="2.02" stroke-linecap="butt"/>
<line x1="405" y1="242.6" x2="405" y2="388.7" stroke="#000" stroke-width="2.02" stroke-linecap="butt"/>
<polygon points="405,242.6 409.1,264.1 400.9,264.1" fill="#000" stroke="#000" stroke-width="0.8" stroke-linejoin="miter"/>
<polygon points="405,388.7 400.9,367.2 409.1,367.2" fill="#000" stroke="#000" stroke-width="0.8" stroke-linejoin="miter"/>
<line x1="442" y1="272.8" x2="487" y2="272.8" stroke="#000" stroke-width="2.02" stroke-linecap="butt"/>
<line x1="446.5" y1="272.8" x2="446.5" y2="360.6" stroke="#000" stroke-width="2.02" stroke-linecap="butt"/>
<polygon points="446.5,272.8 450.6,292.8 442.4,292.8" fill="#000" stroke="#000" stroke-width="0.8" stroke-linejoin="miter"/>
<polygon points="446.5,360.6 442.4,340.6 450.6,340.6" fill="#000" stroke="#000" stroke-width="0.8" stroke-linejoin="miter"/>
<line x1="924" y1="243" x2="986" y2="243" stroke="#000" stroke-width="2.02" stroke-linecap="butt"/>
<line x1="924" y1="389" x2="986" y2="389" stroke="#000" stroke-width="2.02" stroke-linecap="butt"/>
<line x1="980.5" y1="243" x2="980.5" y2="389" stroke="#000" stroke-width="2.02" stroke-linecap="butt"/>
<polygon points="980.5,243 984.6,264.5 976.4,264.5" fill="#000" stroke="#000" stroke-width="0.8" stroke-linejoin="miter"/>
<polygon points="980.5,389 976.4,367.5 984.6,367.5" fill="#000" stroke="#000" stroke-width="0.8" stroke-linejoin="miter"/>
<line x1="647" y1="425" x2="647" y2="519" stroke="#000" stroke-width="2.02" stroke-linecap="butt"/>
<line x1="647" y1="513" x2="924.5" y2="513" stroke="#000" stroke-width="2.02" stroke-linecap="butt"/>
<polygon points="647,513 668.5,508.9 668.5,517.1" fill="#000" stroke="#000" stroke-width="0.8" stroke-linejoin="miter"/>
<polygon points="924.5,513 903,517.1 903,508.9" fill="#000" stroke="#000" stroke-width="0.8" stroke-linejoin="miter"/>
<line x1="924.5" y1="458" x2="924.5" y2="518.5" stroke="#000" stroke-width="2.02" stroke-linecap="butt"/>
<polyline points="700,47.5 700,68 713.53,68" fill="none" stroke="#000" stroke-width="2.07" stroke-linejoin="round"/>
<polyline points="609.76,89 597,89 597,111 609.76,111" fill="none" stroke="#000" stroke-width="2.07" stroke-linejoin="round"/>
<polyline points="597,98.9 605.58,98.9" fill="none" stroke="#000" stroke-width="2.07" stroke-linejoin="round"/>
<polyline points="573.2,141.3 585.59,141.3" fill="none" stroke="#000" stroke-width="2.07" stroke-linejoin="round"/>
<polyline points="573.2,130.8 573.2,151.8 585.59,151.8 588.11,148.86 588.11,144.24 585.59,141.3 587.69,138.36 587.69,133.95 585.59,130.8 573.2,130.8" fill="none" stroke="#000" stroke-width="2.07" stroke-linejoin="round"/>
<polyline points="770.7,504.9 770.7,484.3 777.91,504.9 785.12,484.3 785.12,504.9" fill="none" stroke="#000" stroke-width="2.07" stroke-linejoin="round"/>
<polyline points="794.6,489.04 801.19,484.3 801.19,504.9" fill="none" stroke="#000" stroke-width="2.07" stroke-linejoin="round"/>
<polyline points="43.6,335.6 22.6,335.6 43.6,328.04 22.6,320.48 43.6,320.48" fill="none" stroke="#000" stroke-width="2.07" stroke-linejoin="round"/>
<polyline points="27.64,312.08 23.86,310.4 22.6,306.62 23.02,302 25.54,299.27 28.9,298.64 32.05,299.9 43.6,312.5 43.6,298.64" fill="none" stroke="#000" stroke-width="2.07" stroke-linejoin="round"/>
<polyline points="387.5,318.8 391.57,320.16 394.09,323.73 394.09,328.15 391.57,331.72 387.5,333.08 383.43,331.72 380.91,328.15 380.91,323.73 383.43,320.16 387.5,318.8" fill="none" stroke="#000" stroke-width="2.07" stroke-linejoin="round"/>
<polyline points="377.21,320.48 398.21,331.4" fill="none" stroke="#000" stroke-width="2.07" stroke-linejoin="round"/>
<polyline points="398,313.13 377,313.13 377,302 379.52,299.69 382.67,298.64 385.82,299.9 387.92,302.63 387.92,313.13" fill="none" stroke="#000" stroke-width="2.07" stroke-linejoin="round"/>
<polyline points="429,318.8 433.07,320.16 435.59,323.73 435.59,328.15 433.07,331.72 429,333.08 424.93,331.72 422.41,328.15 422.41,323.73 424.93,320.16 429,318.8" fill="none" stroke="#000" stroke-width="2.07" stroke-linejoin="round"/>
<polyline points="418.71,320.48 439.71,331.4" fill="none" stroke="#000" stroke-width="2.07" stroke-linejoin="round"/>
<polyline points="418.5,313.13 418.5,303.26 422.07,300.53 429,299.06 435.93,300.53 439.5,303.26 439.5,313.13 418.5,313.13" fill="none" stroke="#000" stroke-width="2.07" stroke-linejoin="round"/>
<polyline points="950.3,311.18 966.21,311.18 965.67,311.25 967.29,311.21 968.85,311.57 970.23,312.29 971.31,313.31 972,314.55 972.23,315.91 972,317.27 971.31,318.51 970.23,319.53 968.85,320.25 967.29,320.61 965.67,320.57 965.35,321.5" fill="none" stroke="#000" stroke-width="2.07" stroke-linejoin="round"/>
<polyline points="262,483.1 266.27,484.53 268.9,488.27 268.9,492.89 266.27,496.63 262,498.06 257.73,496.63 255.1,492.89 255.1,488.27 257.73,484.53 262,483.1" fill="none" stroke="#000" stroke-width="2.07" stroke-linejoin="round"/>
<polyline points="251.22,484.86 273.22,496.3" fill="none" stroke="#000" stroke-width="2.07" stroke-linejoin="round"/>
<polyline points="256.28,464.4 251.44,468.58 251,472.32 253.64,476.5 257.82,478.48 264.42,478.48 268.38,476.94 272.34,472.32 272.34,467.7 267.28,464.4" fill="none" stroke="#000" stroke-width="2.07" stroke-linejoin="round"/></g></svg></body></html>
